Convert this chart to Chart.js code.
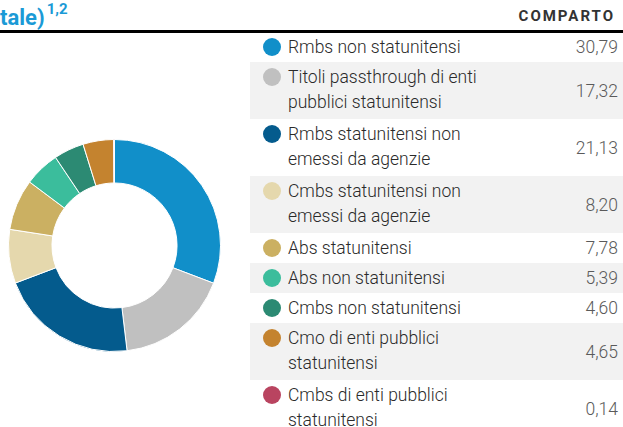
<!DOCTYPE html>
<html lang="it">
<head>
<meta charset="utf-8">
<title>Comparto</title>
<script src="https://cdn.jsdelivr.net/npm/chart.js@4.4.1/dist/chart.umd.min.js"></script>
<style>
    body {
        margin: 0;
        width: 623px;
        height: 427px;
        overflow: hidden;
        background: #fff;
        position: relative;
        font-family: Roboto, "Noto Sans", sans-serif;
    }
    .titolo {
        position: absolute;
        left: 0;
        top: -1px;
        color: #1b9ad6;
        font-weight: 700;
        font-size: 22px;
        line-height: 26px;
    }
    .titolo sup {
        font-size: 15px;
        position: relative;
        top: -3px;
        margin-left: 2px;
    }
    .intestazione {
        position: absolute;
        right: 8px;
        top: 7px;
        color: #333;
        font-weight: 700;
        font-size: 15px;
        letter-spacing: 2px;
    }
    .filetto {
        position: absolute;
        left: 0;
        right: 0;
        top: 30px;
        height: 2.5px;
        background: #000;
    }
    #torta {
        position: absolute;
        left: 8px;
        top: 139px;
        width: 213px;
        height: 213px;
    }
    #legenda {
        position: absolute;
        left: 250px;
        top: 32px;
        width: 373px;
    }
    .voce {
        position: relative;
        box-sizing: border-box;
        padding: 2.5px 0;
    }
    .voce:nth-child(even) { background: #f2f2f2; }
    .pallino {
        position: absolute;
        left: 13px;
        width: 18px;
        height: 18px;
        border-radius: 50%;
    }
    .etichetta {
        margin-left: 38px;
        font-size: 17.5px;
        font-weight: 300;
        color: #2a2a2a;
        line-height: 25px;
    }
    .valore {
        position: absolute;
        right: 5px;
        top: 50%;
        transform: translateY(-50%);
        font-size: 17.5px;
        font-weight: 300;
        color: #5a5a5a;
    }
</style>
</head>
<body>
<div class="titolo">tale)<sup>1,2</sup></div>
<div class="intestazione">COMPARTO</div>
<div class="filetto"></div>
<div id="torta"><canvas id="compartoChart"></canvas></div>
<div id="legenda"></div>

<script>
// categorie (a capo come nella tabella)
const categorie = [
    ["Rmbs non statunitensi"],
    ["Titoli passthrough di enti", "pubblici statunitensi"],
    ["Rmbs statunitensi non", "emessi da agenzie"],
    ["Cmbs statunitensi non", "emessi da agenzie"],
    ["Abs statunitensi"],
    ["Abs non statunitensi"],
    ["Cmbs non statunitensi"],
    ["Cmo di enti pubblici", "statunitensi"],
    ["Cmbs di enti pubblici", "statunitensi"]
];

// quote percentuali del comparto
const quote = [30.79, 17.32, 21.13, 8.20, 7.78, 5.39, 4.60, 4.65, 0.14];

const colori = [
    "#118fc9", "#c0c0c0", "#045b8d", "#e5d8ad", "#cbb062",
    "#3bbd9c", "#2c8a73", "#c4832f", "#b94460"
];

const formatta = (v) => v.toFixed(2).replace(".", ",");

document.addEventListener("DOMContentLoaded", function () {
    // tabella a destra
    const legenda = document.getElementById("legenda");
    categorie.forEach((righe, i) => {
        const voce = document.createElement("div");
        voce.className = "voce";
        voce.style.height = (righe.length === 1 ? 30 : 57) + "px";
        voce.innerHTML = `
            <span class="pallino" style="background:${colori[i]}; top:6px"></span>
            <div class="etichetta">${righe.join("<br>")}</div>
            <span class="valore">${formatta(quote[i])}</span>
        `;
        legenda.appendChild(voce);
    });

    // ciambella
    const ctx = document.getElementById("compartoChart").getContext("2d");
    new Chart(ctx, {
        type: "doughnut",
        data: {
            labels: categorie.map(r => r.join(" ")),
            datasets: [{
                data: quote,
                backgroundColor: colori,
                borderColor: "#fff",
                borderWidth: 1,
                hoverOffset: 0,
            }],
        },
        options: {
            responsive: true,
            maintainAspectRatio: false,
            animation: false,
            cutout: "59%",
            layout: { padding: 0 },
            plugins: {
                legend: { display: false },
                tooltip: { enabled: false },
            },
        },
    });
});
</script>
</body>
</html>
